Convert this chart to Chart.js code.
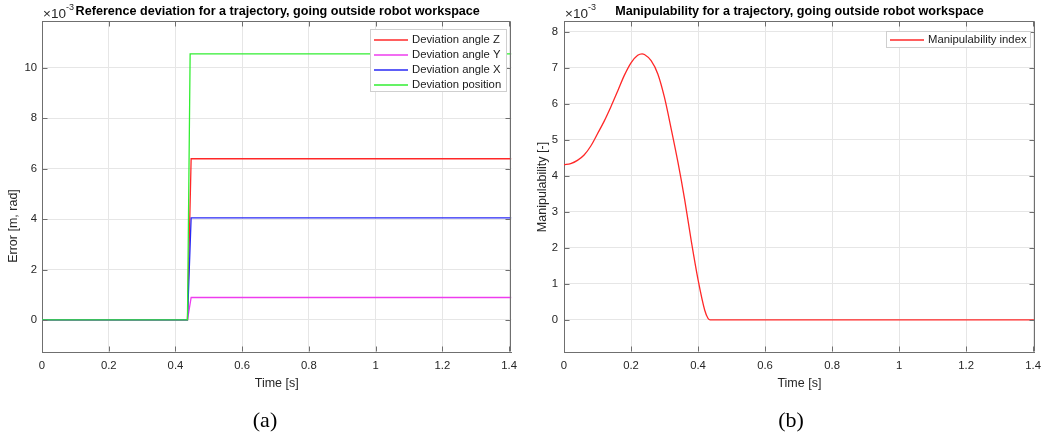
<!DOCTYPE html>
<html><head><meta charset="utf-8">
<script src="https://cdn.jsdelivr.net/npm/chart.js@4.4.0/dist/chart.umd.min.js"></script>
<style>
html,body{margin:0;padding:0;background:#fff;width:1048px;height:437px;overflow:hidden;}
.box{position:absolute;top:0;height:437px;}
#wa{left:0;width:524px;} #wb{left:520px;width:528px;}
.cap{position:absolute;top:407px;line-height:26px;font-family:"Liberation Serif","DejaVu Serif",serif;font-size:22px;color:#000;transform:translateX(-50%);}
</style></head><body>
<div id="wa" class="box"><canvas id="ca" width="524" height="437"></canvas></div>
<div id="wb" class="box"><canvas id="cb" width="528" height="437"></canvas></div>
<div class="cap" style="left:265px">(a)</div>
<div class="cap" style="left:791px">(b)</div>
<script>
// ---- data (values ×10^-3) ----
const timeDev = [0, 0.436, 0.444, 0.447, 1.407];
const devAngleZ = [0, 0, 4.65, 6.39, 6.39];
const devAngleY = [0, 0, 0.65, 0.89, 0.89];
const devAngleX = [0, 0, 2.95, 4.05, 4.05];
const devPosition = [0, 0, 10.55, 10.55, 10.55];
const devLabels = ['Deviation angle Z', 'Deviation angle Y', 'Deviation angle X', 'Deviation position'];
const devColors = ['rgb(255,40,40)', 'rgb(238,60,238)', 'rgb(40,40,245)', 'rgb(50,238,50)'];

const timeManip = [0, 0.02, 0.04, 0.06, 0.08, 0.10, 0.12, 0.14, 0.16, 0.18, 0.20, 0.22, 0.233, 0.24, 0.26, 0.28, 0.30, 0.32, 0.34, 0.36, 0.38, 0.40, 0.42, 0.43, 0.436, 1.405];
const manipIndex = [4.31, 4.34, 4.43, 4.58, 4.83, 5.17, 5.52, 5.92, 6.35, 6.79, 7.14, 7.35, 7.39, 7.37, 7.20, 6.83, 6.17, 5.30, 4.38, 3.35, 2.18, 1.12, 0.27, 0.04, 0, 0];
const manipLabels = ['Manipulability index'];
const manipColors = ['rgb(255,40,40)'];

const xTicks = [0, 0.2, 0.4, 0.6, 0.8, 1, 1.2, 1.4];
const yTicksDev = [0, 2, 4, 6, 8, 10];
const yTicksManip = [0, 1, 2, 3, 4, 5, 6, 7, 8];

// ---- styling ----
const FAM = '"Liberation Sans", Arial, Helvetica, sans-serif';
const TXT = '#262626';
const GRID = '#e6e6e6';
const AXIS = '#6f6f6f';

function pts(t, v) { return t.map((x, i) => ({ x: x, y: v[i] })); }

const decor = {
  id: 'decor',
  afterDraw(chart, args, o) {
    const { ctx, chartArea: a, scales } = chart;
    const x = scales.x, y = scales.y;
    ctx.save();
    ctx.strokeStyle = AXIS; ctx.lineWidth = 1;
    ctx.beginPath();
    const L = Math.round(a.left) + 0.5, R = Math.round(a.right) - 0.5, T = Math.round(a.top) + 0.5, B = Math.round(a.bottom) - 0.5;
    ctx.moveTo(L, T); ctx.lineTo(R, T); ctx.lineTo(R, B);
    x.ticks.forEach(t => {
      const p = Math.round(x.getPixelForValue(t.value)) + 0.5;
      ctx.moveTo(p, B); ctx.lineTo(p, B - 5);
      ctx.moveTo(p, T); ctx.lineTo(p, T + 5);
    });
    y.ticks.forEach(t => {
      const p = Math.round(y.getPixelForValue(t.value)) + 0.5;
      ctx.moveTo(L, p); ctx.lineTo(L + 5, p);
      ctx.moveTo(R, p); ctx.lineTo(R - 5, p);
    });
    ctx.stroke();
    // title
    ctx.fillStyle = '#000';
    ctx.font = 'bold 12.6px ' + FAM;
    ctx.textAlign = 'center'; ctx.textBaseline = 'middle';
    ctx.fillText(o.title, (a.left + a.right) / 2 + (o.titleShift || 0), 12);
    // y axis title
    ctx.save();
    ctx.fillStyle = TXT;
    ctx.font = '12.5px ' + FAM;
    ctx.translate(o.yTitle.x, o.yTitle.y);
    ctx.rotate(-Math.PI / 2);
    ctx.fillText(o.yTitle.text, 0, 0);
    ctx.restore();
    // exponent
    ctx.fillStyle = TXT;
    ctx.textAlign = 'left';
    ctx.font = '13.5px ' + FAM;
    ctx.fillText('\u00d710', a.left + 1, 14);
    const w = ctx.measureText('\u00d710').width;
    ctx.font = '9px ' + FAM;
    ctx.fillText('-3', a.left + 1 + w, 8);
    // legend
    const lg = o.legend;
    ctx.fillStyle = '#fff'; ctx.strokeStyle = '#cfcfcf'; ctx.lineWidth = 1;
    ctx.fillRect(lg.x, lg.y, lg.w, lg.h);
    ctx.strokeRect(lg.x + 0.5, lg.y + 0.5, lg.w - 1, lg.h - 1);
    ctx.font = '11.3px ' + FAM;
    ctx.textBaseline = 'middle';
    lg.items.forEach((label, i) => {
      const yy = Math.round(lg.y0 + i * lg.dy);
      ctx.strokeStyle = lg.colors[i]; ctx.lineWidth = 1.4;
      ctx.beginPath(); ctx.moveTo(lg.x + 4, yy); ctx.lineTo(lg.x + 38, yy); ctx.stroke();
      ctx.fillStyle = '#1a1a1a';
      ctx.fillText(label, lg.x + 42, yy);
    });
    ctx.restore();
  }
};

function axisX(max) {
  return {
    type: 'linear', min: 0, max: max,
    afterFit(s) { s.height = 85; },
    afterBuildTicks(s) { s.ticks = xTicks.map(v => ({ value: v })); },
    grid: { color: GRID, drawTicks: false, lineWidth: 1 },
    border: { display: true, color: AXIS, width: 1 },
    ticks: { padding: 7, color: TXT, font: { family: FAM, size: 11.3 }, maxRotation: 0, minRotation: 0, autoSkip: false, callback: v => String(v) },
    title: { display: true, text: 'Time [s]', color: TXT, font: { family: FAM, size: 12.5 }, padding: { top: 0, bottom: 46 } }
  };
}
function axisY(min, max, ticks, width, lpad) {
  return {
    type: 'linear', min: min, max: max,
    afterFit(s) { s.width = width; },
    afterBuildTicks(s) { s.ticks = ticks.map(v => ({ value: v })); },
    grid: { color: GRID, drawTicks: false, lineWidth: 1 },
    border: { display: true, color: AXIS, width: 1 },
    ticks: { padding: lpad, color: TXT, font: { family: FAM, size: 11.3 }, autoSkip: false, callback: v => String(v) },
    title: { display: false }
  };
}
const base = {
  responsive: false, maintainAspectRatio: false, animation: false, devicePixelRatio: 1,
  elements: { point: { radius: 0 }, line: { borderWidth: 1.3, tension: 0 } },
};

new Chart(document.getElementById('ca'), {
  type: 'line',
  data: { datasets: devLabels.map((lab, i) => ({
    label: lab,
    data: pts(timeDev, [devAngleZ, devAngleY, devAngleX, devPosition][i]),
    borderColor: devColors[i],
    order: 3 - i
  })) },
  options: Object.assign({}, base, {
    layout: { padding: { top: 21, right: 10, left: 0, bottom: 0 } },
    plugins: {
      legend: { display: false }, tooltip: { enabled: false },
      decor: { title: 'Reference deviation for a trajectory, going outside robot workspace', titleShift: 1,
        yTitle: { text: 'Error [m, rad]', x: 13.5, y: 226 },
        legend: { x: 370, y: 29, w: 137, h: 63, y0: 39.5, dy: 15, items: devLabels, colors: devColors } }
    },
    scales: { x: axisX(1.407), y: axisY(-1.27, 11.85, yTicksDev, 42, 5) }
  }),
  plugins: [decor]
});

new Chart(document.getElementById('cb'), {
  type: 'line',
  data: { datasets: [
    { label: manipLabels[0], data: pts(timeManip, manipIndex), borderColor: manipColors[0], cubicInterpolationMode: 'monotone' }
  ] },
  options: Object.assign({}, base, {
    layout: { padding: { top: 21, right: 6, left: 0, bottom: 0 } },
    plugins: {
      legend: { display: false }, tooltip: { enabled: false },
      decor: { title: 'Manipulability for a trajectory, going outside robot workspace',
        yTitle: { text: 'Manipulability [-]', x: 23, y: 187 },
        legend: { x: 366, y: 31, w: 145, h: 17, y0: 39.5, dy: 15, items: manipLabels, colors: manipColors } }
    },
    scales: { x: axisX(1.405), y: axisY(-0.89, 8.30, yTicksManip, 44, 6) }
  }),
  plugins: [decor]
});
</script>
</body></html>
